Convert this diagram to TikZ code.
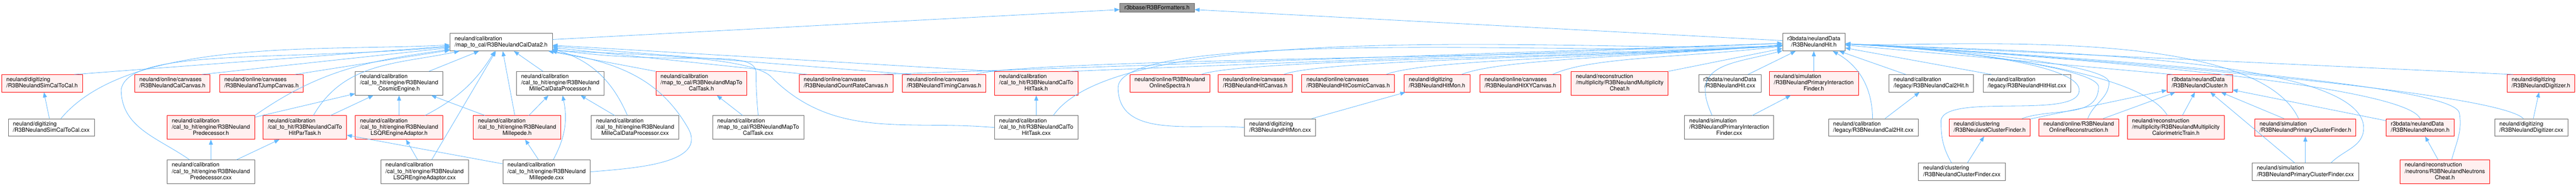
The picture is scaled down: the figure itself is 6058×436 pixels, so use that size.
\documentclass[tikz,border=0pt]{standalone}
\usepackage{fontspec}
\setmainfont{TeX Gyre Heros}
\usetikzlibrary{arrows.meta}
\definecolor{edgeblue}{HTML}{63B8FF}
\definecolor{nodered}{HTML}{FF0000}
\definecolor{nodepink}{HTML}{FFF0F0}
\definecolor{nodegrey}{HTML}{666666}
\definecolor{rootgrey}{HTML}{999999}
\newcommand{\filelabel}[2]{\begin{tabular}{@{}l@{}}#1\\\multicolumn{1}{@{}c@{}}{#2}\end{tabular}}
\tikzset{file/.style = {draw=nodegrey, fill=white, line width=0.75pt, inner xsep=8.25pt, inner ysep=4.3pt, font=\fontsize{10}{11}\selectfont}}
\tikzset{redfile/.style = {file, draw=nodered, fill=nodepink}}
\tikzset{rootfile/.style = {file, fill=rootgrey}}
\tikzset{edge/.style = {->, > = {Triangle[length=9pt,width=7pt]}, draw=edgeblue, line width=0.75pt}}
\begin{document}
\begin{tikzpicture}[x=0.75pt, y=0.75pt]
    \useasboundingbox (0,0) rectangle (6058,-436);
    \node[rootfile] (fmt) at (2721,-18) {r3bbase/R3BFormatters.h};
    \node[file] (cal2) at (1178.5,-99) {\filelabel{neuland/calibration}{/map\_to\_cal/R3BNeulandCalData2.h}};
    \node[file] (hit) at (4265.5,-99) {\filelabel{r3bdata/neulandData}{/R3BNeulandHit.h}};
    \draw[edge] (cal2) -- (fmt);
    \draw[edge] (hit) -- (fmt);

    \node[redfile] (simh) at (99,-195.5) {\filelabel{neuland/digitizing}{/R3BNeulandSimCalToCal.h}};
    \node[redfile] (calcv) at (405.5,-195.5) {\filelabel{neuland/online/canvases}{/R3BNeulandCalCanvas.h}};
    \node[redfile] (tjump) at (615,-195.5) {\filelabel{neuland/online/canvases}{/R3BNeulandTJumpCanvas.h}};
    \node[file] (cosmic) at (938.5,-195.5) {\filelabel{neuland/calibration\\/cal\_to\_hit/engine/R3BNeuland}{CosmicEngine.h}};
    \node[file] (mproch) at (1317.5,-195.5) {\filelabel{neuland/calibration\\/cal\_to\_hit/engine/R3BNeuland}{MilleCalDataProcessor.h}};
    \node[redfile] (mtch) at (1649.5,-195.5) {\filelabel{neuland/calibration\\/map\_to\_cal/R3BNeulandMapTo}{CalTask.h}};
    \node[redfile] (ratecv) at (1989.5,-195.5) {\filelabel{neuland/online/canvases}{/R3BNeulandCountRateCanvas.h}};
    \node[redfile] (timecv) at (2220,-195.5) {\filelabel{neuland/online/canvases}{/R3BNeulandTimingCanvas.h}};
    \node[redfile] (c2hh) at (2437,-195.5) {\filelabel{neuland/calibration\\/cal\_to\_hit/R3BNeulandCalTo}{HitTask.h}};

    \node[file] (simcxx) at (120.5,-299) {\filelabel{neuland/digitizing}{/R3BNeulandSimCalToCal.cxx}};
    \node[redfile] (predh) at (496,-299) {\filelabel{neuland/calibration\\/cal\_to\_hit/engine/R3BNeuland}{Predecessor.h}};
    \node[redfile] (parh) at (717,-299) {\filelabel{neuland/calibration\\/cal\_to\_hit/R3BNeulandCalTo}{HitParTask.h}};
    \node[redfile] (lsqrh) at (938.5,-299) {\filelabel{neuland/calibration\\/cal\_to\_hit/engine/R3BNeuland}{LSQREngineAdaptor.h}};
    \node[redfile] (milleh) at (1216,-299) {\filelabel{neuland/calibration\\/cal\_to\_hit/engine/R3BNeuland}{Millepede.h}};
    \node[file] (mproccxx) at (1493.5,-299) {\filelabel{neuland/calibration\\/cal\_to\_hit/engine/R3BNeuland}{MilleCalDataProcessor.cxx}};
    \node[file] (mtccxx) at (1783,-299) {\filelabel{neuland/calibration\\/map\_to\_cal/R3BNeulandMapTo}{CalTask.cxx}};
    \node[file] (c2hcxx) at (2437,-299) {\filelabel{neuland/calibration\\/cal\_to\_hit/R3BNeulandCalTo}{HitTask.cxx}};

    \node[file] (predcxx) at (496,-403) {\filelabel{neuland/calibration\\/cal\_to\_hit/engine/R3BNeuland}{Predecessor.cxx}};
    \node[file] (lsqrcxx) at (998.5,-403) {\filelabel{neuland/calibration\\/cal\_to\_hit/engine/R3BNeuland}{LSQREngineAdaptor.cxx}};
    \node[file] (millecxx) at (1285.5,-403) {\filelabel{neuland/calibration\\/cal\_to\_hit/engine/R3BNeuland}{Millepede.cxx}};

    \draw[edge] ([xshift=-15pt]simh.north east) -- (cal2);
    \draw[edge] (simcxx) -- (simh);
    \draw[edge] ([xshift=17pt]simcxx.north) .. controls +(50:250) and +(183:420) .. (cal2);
    \draw[edge] ([xshift=-15pt]calcv.north east) -- (cal2);
    \draw[edge] ([xshift=-15pt]tjump.north east) -- (cal2);
    \draw[edge] ([xshift=-37.5pt]predcxx.north) to[out=145, in=-90] ++(-161,165) .. controls +(80:100) and +(185:520) .. (cal2);
    \draw[edge] (predcxx) -- (predh);
    \draw[edge] (predcxx) -- (parh);
    \draw[edge] (predh.north east) to[out=35, in=188] (cal2);
    \draw[edge] (predh) -- (cosmic);
    \draw[edge] ([xshift=15pt]parh.north) to[out=60, in=192] (cal2);
    \draw[edge] (parh) -- (cosmic);
    \draw[edge] (lsqrh) -- (cosmic);
    \draw[edge] (lsqrh) to[bend right=15] (cal2);
    \draw[edge] (lsqrcxx) -- (lsqrh);
    \draw[edge] (lsqrcxx) -- (cal2);
    \draw[edge] (cosmic) -- (cal2);
    \draw[edge] (milleh) -- (cosmic);
    \draw[edge] (milleh) -- (cal2);
    \draw[edge] (milleh) -- (mproch);
    \draw[edge] (mproch) -- (cal2);
    \draw[edge] (millecxx) -- (milleh);
    \draw[edge] (millecxx) to[bend right=20] (mproch);
    \draw[edge] (millecxx) -- (parh);
    \draw[edge] (millecxx.east) to[out=5, in=-60] ++(229,103) to[out=120, in=-10] (cal2);
    \draw[edge] (mproccxx) -- (mproch);
    \draw[edge] (mproccxx) to[bend right=25] (cal2);
    \draw[edge] (mtch.north west) -- (cal2);
    \draw[edge] (mtccxx) -- (mtch);
    \draw[edge] (mtccxx.north) to[out=95, in=-90] ++(-5,100) .. controls +(90:60) and +(-8:420) .. (cal2);
    \draw[edge] ([xshift=15pt]ratecv.north west) -- (cal2);
    \draw[edge] ([xshift=-22pt]ratecv.north east) -- (hit);
    \draw[edge] ([xshift=18pt]timecv.north west) -- (cal2);
    \draw[edge] ([xshift=-18pt]timecv.north east) .. controls +(22:100) and +(185:370) .. (hit);
    \draw[edge] (c2hh.north west) -- (cal2);
    \draw[edge] ([xshift=-15pt]c2hh.north east) -- (hit);
    \draw[edge] (c2hcxx) -- (c2hh);
    \draw[edge] (c2hcxx.west) to[out=175, in=-45] ++(-525,119) .. controls +(135:80) and +(-8:200) .. (cal2);
    \draw[edge] ([xshift=30pt]c2hcxx.north) .. controls +(55:300) and +(185:370) .. (hit);

    \node[redfile] (spectra) at (2751,-195.5) {\filelabel{neuland/online/R3BNeuland}{OnlineSpectra.h}};
    \node[redfile] (hitcv) at (2952,-195.5) {\filelabel{neuland/online/canvases}{/R3BNeulandHitCanvas.h}};
    \node[redfile] (cosmiccv) at (3170.5,-195.5) {\filelabel{neuland/online/canvases}{/R3BNeulandHitCosmicCanvas.h}};
    \node[redfile] (monh) at (3379.5,-195.5) {\filelabel{neuland/digitizing}{/R3BNeulandHitMon.h}};
    \node[redfile] (xycv) at (3575.5,-195.5) {\filelabel{neuland/online/canvases}{/R3BNeulandHitXYCanvas.h}};
    \node[redfile] (multch) at (3809,-195.5) {\filelabel{neuland/reconstruction\\/multiplicity/R3BNeulandMultiplicity}{Cheat.h}};
    \node[file] (hitcxx) at (4068,-195.5) {\filelabel{r3bdata/neulandData}{/R3BNeulandHit.cxx}};
    \node[redfile] (pifh) at (4265.5,-195.5) {\filelabel{neuland/simulation\\/R3BNeulandPrimaryInteraction}{Finder.h}};
    \node[file] (c2hith) at (4541.5,-195.5) {\filelabel{neuland/calibration}{/legacy/R3BNeulandCal2Hit.h}};
    \node[file] (histcxx) at (4767,-195.5) {\filelabel{neuland/calibration}{/legacy/R3BNeulandHitHist.cxx}};
    \node[file] (moncxx) at (3010.5,-299) {\filelabel{neuland/digitizing}{/R3BNeulandHitMon.cxx}};
    \node[file] (pifcxx) at (4066.5,-299) {\filelabel{neuland/simulation\\/R3BNeulandPrimaryInteraction}{Finder.cxx}};
    \node[file] (c2hitcxx) at (4405.5,-299) {\filelabel{neuland/calibration}{/legacy/R3BNeulandCal2Hit.cxx}};

    \draw[edge] ([xshift=-15pt]spectra.north east) .. controls +(22:100) and +(185:370) .. (hit);
    \draw[edge] ([xshift=-15pt]hitcv.north east) .. controls +(22:100) and +(185:370) .. (hit);
    \draw[edge] ([xshift=-15pt]cosmiccv.north east) .. controls +(22:100) and +(185:370) .. (hit);
    \draw[edge] ([xshift=-15pt]monh.north east) .. controls +(22:100) and +(185:370) .. (hit);
    \draw[edge] ([xshift=-15pt]xycv.north east) .. controls +(25:100) and +(187:300) .. (hit);
    \draw[edge] (moncxx) -- (monh);
    \draw[edge] (moncxx.west) to[out=175, in=-90] ++(-297,94) .. controls +(88:150) and +(186:370) .. (hit);
    \draw[edge] (multch.north east) -- (hit);
    \draw[edge] (hitcxx) -- (hit);
    \draw[edge] (pifh) -- (hit);
    \draw[edge] (pifcxx) -- (pifh);
    \draw[edge] ([xshift=-30pt]pifcxx.north) .. controls +(115:135) and +(195:200) .. (hit);
    \draw[edge] (c2hitcxx) to[bend right=30] (hit);
    \draw[edge] (c2hitcxx) -- (c2hith);
    \draw[edge] ([xshift=30pt]c2hith.north west) -- (hit);
    \draw[edge] ([xshift=15pt]histcxx.north west) -- (hit);

    \node[redfile] (clush) at (5173,-195.5) {\filelabel{r3bdata/neulandData}{/R3BNeulandCluster.h}};
    \node[redfile] (digih) at (5975.5,-195.5) {\filelabel{neuland/digitizing}{/R3BNeulandDigitizer.h}};
    \node[redfile] (cfh) at (4679,-299) {\filelabel{neuland/clustering}{/R3BNeulandClusterFinder.h}};
    \node[redfile] (recoh) at (4888.5,-299) {\filelabel{neuland/online/R3BNeuland}{OnlineReconstruction.h}};
    \node[redfile] (calotrh) at (5117,-299) {\filelabel{neuland/reconstruction\\/multiplicity/R3BNeulandMultiplicity}{CalorimetricTrain.h}};
    \node[redfile] (pcfh) at (5421.5,-299) {\filelabel{neuland/simulation}{/R3BNeulandPrimaryClusterFinder.h}};
    \node[redfile] (neuh) at (5691.5,-299) {\filelabel{r3bdata/neulandData}{/R3BNeulandNeutron.h}};
    \node[file] (digicxx) at (5953,-299) {\filelabel{neuland/digitizing}{/R3BNeulandDigitizer.cxx}};
    \node[file] (cfcxx) at (4613.5,-403) {\filelabel{neuland/clustering}{/R3BNeulandClusterFinder.cxx}};
    \node[file] (pcfcxx) at (5421.5,-403) {\filelabel{neuland/simulation}{/R3BNeulandPrimaryClusterFinder.cxx}};
    \node[redfile] (ncheath) at (5749.5,-403) {\filelabel{neuland/reconstruction\\/neutrons/R3BNeulandNeutrons}{Cheat.h}};

    \draw[edge] ([xshift=-15pt]cfh.north east) to[out=20, in=-90] ++(180,75) .. controls +(95:40) and +(-3:370) .. (hit);
    \draw[edge] (cfh) -- (clush);
    \draw[edge] (cfcxx) -- (cfh);
    \draw[edge] ([xshift=-18pt]cfcxx.north) to[out=120, in=-90] ++(-25,100) to[out=80, in=-100, looseness=0.5] ++(325,67) .. controls +(80:60) and +(-3:370) .. (hit);
    \draw[edge] ([xshift=16pt]recoh.north) to[out=70, in=-90] ++(50,86) .. controls +(100:40) and +(-3:370) .. (hit);
    \draw[edge] (recoh) -- (clush);
    \draw[edge] ([xshift=-15pt]calotrh.north) .. controls +(120:120) and +(-3:370) .. (hit);
    \draw[edge] (calotrh) -- (clush);
    \draw[edge] ([xshift=10pt]clush.north west) -- (hit);
    \draw[edge] ([xshift=-12pt]pcfh.north) .. controls +(115:250) and +(-3:270) .. (hit);
    \draw[edge] (pcfh) -- (clush);
    \draw[edge] (pcfcxx) -- (pcfh);
    \draw[edge] (pcfcxx) -- (clush);
    \draw[edge] ([xshift=45pt]pcfcxx.north) to[out=45, in=-90] ++(77,82) .. controls +(90:180) and +(-3:370) .. (hit);
    \draw[edge] (neuh) -- (clush);
    \draw[edge] (neuh.north) .. controls +(115:100) and +(-3:370) .. (hit);
    \draw[edge] (ncheath) -- (neuh);
    \draw[edge] ([xshift=12pt]ncheath.north) to[out=75, in=-80] ++(18,110) .. controls +(100:80) and +(-3:370) .. (hit);
    \draw[edge] ([xshift=11pt]digih.north west) -- (hit);
    \draw[edge] (digicxx) -- (digih);
    \draw[edge] ([xshift=-14pt]digicxx.north) .. controls +(135:100) and +(-3:470) .. (hit);
\end{tikzpicture}
\end{document}
